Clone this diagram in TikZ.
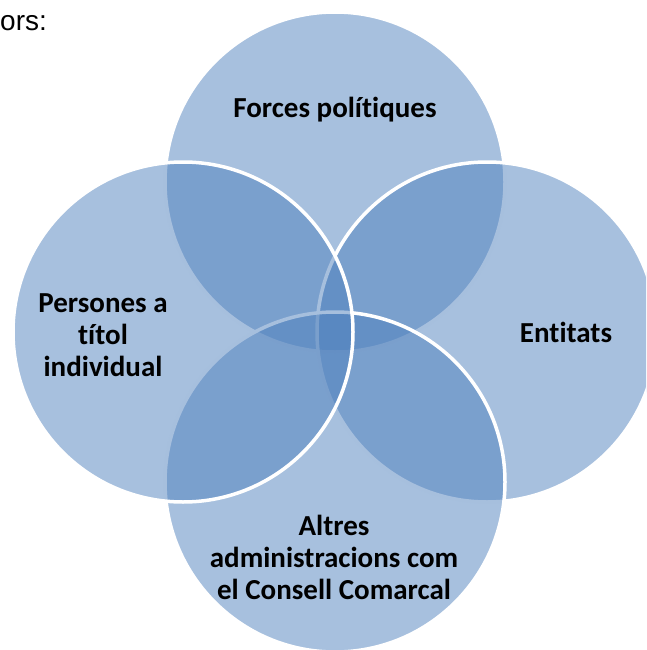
\documentclass[tikz,border=0pt]{standalone}
\usepackage{fontspec}
\setmainfont{Carlito}[Ligatures=NoCommon]
\newfontfamily\arialfont{Liberation Sans}
\usepackage{tikz}

\definecolor{vennblue}{HTML}{4F81BD}

\tikzset{
  venn/.style={circle, inner sep=0pt, minimum size=340pt, fill=vennblue,
    fill opacity=0.5, draw=white, line width=3.5pt},
  vennlabel/.style={align=center, font=\fontsize{29}{32}\selectfont\bfseries,
    text=black, inner sep=0pt}
}

\begin{document}
\begin{tikzpicture}[x=1pt, y=-1pt]
        \useasboundingbox (0,0) rectangle (646,650);
        \clip (0,0) rectangle (646,650);
        \node[anchor=west, inner sep=0pt, font=\arialfont\fontsize{28}{32}\selectfont] (intro) at (0,23) {ors:};
        % circles, drawn clockwise from the top
        \foreach \name/\px/\py in {forces/335/182, entitats/487/332, altres/335/482, persones/183/332} {
          \node[venn] (\name) at (\px,\py) {};
        }
        \node[vennlabel] (forcestext) at (335,110) {Forces polítiques};
        \node[vennlabel] (entitatstext) at (566,332) {Entitats};
        \node[vennlabel] (altrestext) at (334,557) {Altres\\administracions com\\el Consell Comarcal};
        \node[vennlabel] (personestext) at (103,335) {Persones a\\títol\\individual};
    \end{tikzpicture}
\end{document}
